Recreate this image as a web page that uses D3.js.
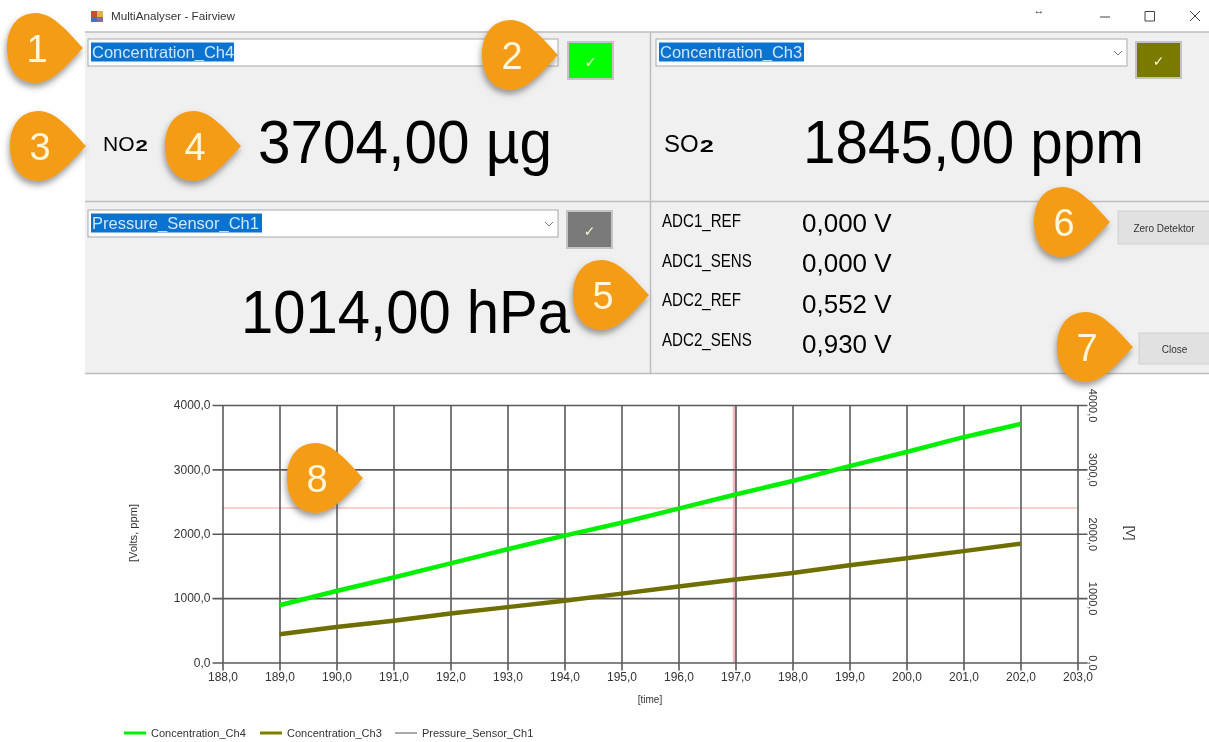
<!DOCTYPE html>
<html>
<head>
<meta charset="utf-8">
<title>MultiAnalyser - Fairview</title>
<script src="https://cdnjs.cloudflare.com/ajax/libs/d3/7.8.5/d3.min.js"></script>
<style>
  html, body { margin: 0; padding: 0; background: #fff; overflow: hidden; }
  svg { display: block; filter: blur(0.45px); }
  text { font-family: "Liberation Sans", Arial, sans-serif; fill: #000; }
</style>
</head>
<body>
<svg id="chart" width="1209" height="742"></svg>
<script>
// data
var times = [189,190,191,192,193,194,195,196,197,198,199,200,201,202];
var ch4Values = [890,1110,1320,1540,1760,1970,2170,2390,2610,2820,3050,3270,3500,3704];
var ch3Values = [440,550,650,760,860,960,1070,1180,1290,1390,1510,1620,1730,1845];
var xTicks = [188,189,190,191,192,193,194,195,196,197,198,199,200,201,202,203];
var yTicks = [0,1000,2000,3000,4000];
var cursorTime = 197;
var cursorLevel = 2400;
var legendNames = ["Concentration_Ch4","Concentration_Ch3","Pressure_Sensor_Ch1"];
var adcNames = ["ADC1_REF","ADC1_SENS","ADC2_REF","ADC2_SENS"];
var adcValues = ["0,000 V","0,000 V","0,552 V","0,930 V"];
var badgeNumbers = ["1","2","3","4","5","6","7","8"];

var svg = d3.select("#chart");
var comma1 = function(d) { return d.toFixed(1).replace(".",","); };

// drop shadow for the callouts
var shadow = svg.append("defs").append("filter")
  .attr("id","shadow")
  .attr("x","-30%").attr("y","-30%")
  .attr("width","160%").attr("height","170%");
shadow.append("feDropShadow")
  .attr("dx",-1).attr("dy",4)
  .attr("stdDeviation",3)
  .attr("flood-color","#555")
  .attr("flood-opacity",0.6);

/////////////////////////////////////////////////
// window frame
svg.append("rect")
  .attr("x",85).attr("y",32)
  .attr("width",1124).attr("height",342)
  .attr("fill","#f0f0f0");
svg.append("path")
  .attr("d","M 85,32 H 1209 M 85,373.5 H 1209 M 650.5,32 V 373 M 85,201.5 H 1209")
  .attr("fill","none")
  .attr("stroke","#bdbdbd")
  .attr("stroke-width",1.5);

// title bar
svg.append("rect").attr("x",91).attr("y",11).attr("width",6).attr("height",6).attr("fill","#c8502a");
svg.append("rect").attr("x",97).attr("y",11).attr("width",6).attr("height",6).attr("fill","#e2b33c");
svg.append("rect").attr("x",91).attr("y",17).attr("width",6).attr("height",5).attr("fill","#4a6fb5");
svg.append("rect").attr("x",97).attr("y",17).attr("width",6).attr("height",5).attr("fill","#8a6aa8");
svg.append("text").attr("x",111).attr("y",20)
  .style("font-size","11.7px").style("fill","#333")
  .text("MultiAnalyser - Fairview");
svg.append("text").attr("x",1039).attr("y",14).attr("text-anchor","middle")
  .style("font-size","11px").style("font-weight","bold").style("fill","#333")
  .text("\u2194");
svg.append("path")
  .attr("d","M 1100,17 H 1110 M 1145,11.5 H 1154.5 V 21 H 1145 Z M 1190,11 L 1200,21 M 1200,11 L 1190,21")
  .attr("fill","none").attr("stroke","#444").attr("stroke-width",1);

/////////////////////////////////////////////////
// combo boxes with their colour buttons
function combo(x, y, w, label, selW, colour, btnX, btnY, btnH) {
  svg.append("rect")
    .attr("x",x).attr("y",y)
    .attr("width",w).attr("height",27)
    .attr("fill","#fff")
    .attr("stroke","#a9a9a9");
  svg.append("rect")
    .attr("x",x+3).attr("y",y+3.5)
    .attr("width",selW).attr("height",19)
    .attr("fill","#0a72d0");
  svg.append("text")
    .attr("x",x+4).attr("y",y+18.5)
    .style("font-size","16.5px")
    .style("fill","#cfe6fb")
    .text(label);
  svg.append("path")
    .attr("d","M "+(x+w-13)+","+(y+12)+" l4,4 l4,-4")
    .attr("fill","none").attr("stroke","#777");
  svg.append("rect")
    .attr("x",btnX).attr("y",btnY)
    .attr("width",45).attr("height",btnH)
    .attr("fill",colour)
    .attr("stroke","#c4c4c4")
    .attr("stroke-width",2);
  svg.append("text")
    .attr("x",btnX+22.5).attr("y",btnY+btnH/2+6)
    .attr("text-anchor","middle")
    .style("font-family","'DejaVu Sans'")
    .style("font-size","14px")
    .style("fill","#f5f5d0")
    .text("\u2713");
}
combo(88,39,470,"Concentration_Ch4",143,"#00ff00",568,42,37);
combo(656,39,471,"Concentration_Ch3",145,"#7a7a00",1136,42,36);
combo(88,210,470,"Pressure_Sensor_Ch1",171,"#7a7a7a",567,211,37);

// big readings, squeezed to the width they have in the screenshot
function bigText(x, y, s, size, width) {
  svg.append("text").attr("x",x).attr("y",y)
    .attr("textLength",width)
    .attr("lengthAdjust","spacingAndGlyphs")
    .style("font-size",size+"px")
    .text(s);
}
function formula(x, y, s, size, subSize) {
  var t = svg.append("text").attr("x",x).attr("y",y)
    .style("font-size",size+"px")
    .text(s);
  t.append("tspan")
    .attr("dy",-1)
    .style("font-size",subSize+"px")
    .style("font-weight","bold")
    .text("\u2082");
}
bigText(258,163,"3704,00 \u00b5g",62,294);
bigText(803,163,"1845,00 ppm",62,341);
bigText(241,333,"1014,00 hPa",62,329);
formula(103,151,"NO",21,32);
formula(664,152,"SO",24,36);

// ADC block
var adcNameY = d3.scaleLinear().domain([0,3]).range([227,346]);
var adcValueY = d3.scaleLinear().domain([0,3]).range([232,353]);
adcNames.forEach(function(name,i) {
  svg.append("text")
    .attr("transform","translate(662,"+adcNameY(i)+") scale(0.84,1)")
    .style("font-size","18px")
    .text(name);
  svg.append("text")
    .attr("x",802).attr("y",adcValueY(i))
    .style("font-size","26px")
    .text(adcValues[i]);
});

// plain buttons
function button(x, y, w, h, label) {
  svg.append("rect")
    .attr("x",x).attr("y",y)
    .attr("width",w).attr("height",h)
    .attr("fill","#e1e1e1")
    .attr("stroke","#d0d0d0");
  svg.append("text")
    .attr("x",x+w/2).attr("y",y+h/2+4)
    .attr("text-anchor","middle")
    .style("font-size","10px").style("fill","#333")
    .text(label);
}
button(1118,211,92,33,"Zero Detektor");
button(1139,333,71,31,"Close");

/////////////////////////////////////////////////
// the plot
var x = d3.scaleLinear().domain([188,203]).range([222.5,1077.5]);
var y = d3.scaleLinear().domain([0,4000]).range([662.5,405]);

var gridStyle = function(g) {
  g.select(".domain").remove();
  g.selectAll(".tick line")
    .attr("stroke","#5a5a5a")
    .attr("stroke-width",1.6);
  g.selectAll(".tick text")
    .style("font-size","12px")
    .style("fill","#333");
};

// cursor cross goes under the grid, the pink shows beside the 197 line
svg.append("line")
  .attr("x1",x(cursorTime)-1).attr("x2",x(cursorTime)-1)
  .attr("y1",y(4000)).attr("y2",y(0))
  .attr("stroke","#f3b6bf")
  .attr("stroke-width",3.5);
svg.append("line")
  .attr("x1",x(188)).attr("x2",x(203))
  .attr("y1",y(cursorLevel)).attr("y2",y(cursorLevel))
  .attr("stroke","#f0a0a0");

svg.append("g")
  .attr("transform","translate(0,662.5)")
  .call(d3.axisBottom(x).tickValues(xTicks).tickFormat(comma1)
    .tickSizeOuter(0))
  .call(gridStyle)
  .call(function(g) {
    g.selectAll(".tick line").attr("y1",8).attr("y2",-257.5);
    g.selectAll(".tick text").attr("y",18).attr("dy",0);
  });

svg.append("g")
  .attr("transform","translate(222.5,0)")
  .call(d3.axisLeft(y).tickValues(yTicks).tickFormat(comma1)
    .tickSizeOuter(0))
  .call(gridStyle)
  .call(function(g) {
    g.selectAll(".tick line").attr("x1",-10).attr("x2",855+10);
    g.selectAll(".tick text").attr("x",-12);
  });

// right hand axis, labels turned on their side
svg.append("g")
  .attr("transform","translate(1077.5,0)")
  .call(d3.axisRight(y).tickValues(yTicks).tickFormat(comma1)
    .tickSize(0).tickSizeOuter(0))
  .call(function(g) {
    g.select(".domain").remove();
    g.selectAll(".tick text")
      .attr("x",0).attr("dy",0)
      .attr("text-anchor","middle")
      .attr("transform","translate(11,0) rotate(90)")
      .style("font-size","11px")
      .style("fill","#333");
  });

var line = d3.line()
  .x(function(d,i) { return x(times[i]); })
  .y(function(d) { return y(d); });
svg.append("path").datum(ch3Values)
  .attr("d",line).attr("fill","none")
  .attr("stroke","#6f6f00").attr("stroke-width",4.5);
svg.append("path").datum(ch4Values)
  .attr("d",line).attr("fill","none")
  .attr("stroke","#00f000").attr("stroke-width",4.5);

// axis titles
svg.append("text")
  .attr("text-anchor","middle")
  .attr("transform","translate(137,533) rotate(-90)")
  .attr("textLength",58)
  .attr("lengthAdjust","spacingAndGlyphs")
  .style("font-size","10px").style("fill","#333")
  .text("[Volts, ppm]");
svg.append("text")
  .attr("text-anchor","middle")
  .attr("transform","translate(1126,533) rotate(90)")
  .style("font-size","12px").style("fill","#333")
  .text("[V]");
svg.append("text")
  .attr("x",650).attr("y",703)
  .attr("text-anchor","middle")
  .style("font-size","10px").style("fill","#333")
  .text("[time]");

// legend
var legendX = [124,260,395];
var legendColours = ["#00ee00","#7f7f00","#555"];
var legendWidths = [3,3,1];
legendNames.forEach(function(name,i) {
  svg.append("line")
    .attr("x1",legendX[i]).attr("x2",legendX[i]+22)
    .attr("y1",733).attr("y2",733)
    .attr("stroke",legendColours[i])
    .attr("stroke-width",legendWidths[i]);
  svg.append("text")
    .attr("x",legendX[i]+27).attr("y",737)
    .style("font-size","11px").style("fill","#333")
    .text(name);
});

/////////////////////////////////////////////////
// numbered orange callouts, placed by their right hand tip
var badgeTips = [[83,48],[558,55],[86,146],[241,146],[649,295],[1110,222],[1133,347],[363,478]];
badgeNumbers.forEach(function(n,i) {
  var tip = badgeTips[i];
  var g = svg.append("g")
    .attr("transform","translate("+tip[0]+","+tip[1]+")");
  g.append("path")
    .attr("d","M 0,0 C -14,-15 -30,-35 -47,-35 C -66,-35 -76,-20 -76,0 C -76,20 -66,35 -47,35 C -30,35 -14,15 0,0 Z")
    .attr("fill","#f59c14")
    .attr("filter","url(#shadow)");
  g.append("text")
    .attr("x",-46).attr("y",14)
    .attr("text-anchor","middle")
    .style("font-size","38px")
    .style("fill","#fff6dc")
    .text(n);
});
</script>
</body>
</html>
